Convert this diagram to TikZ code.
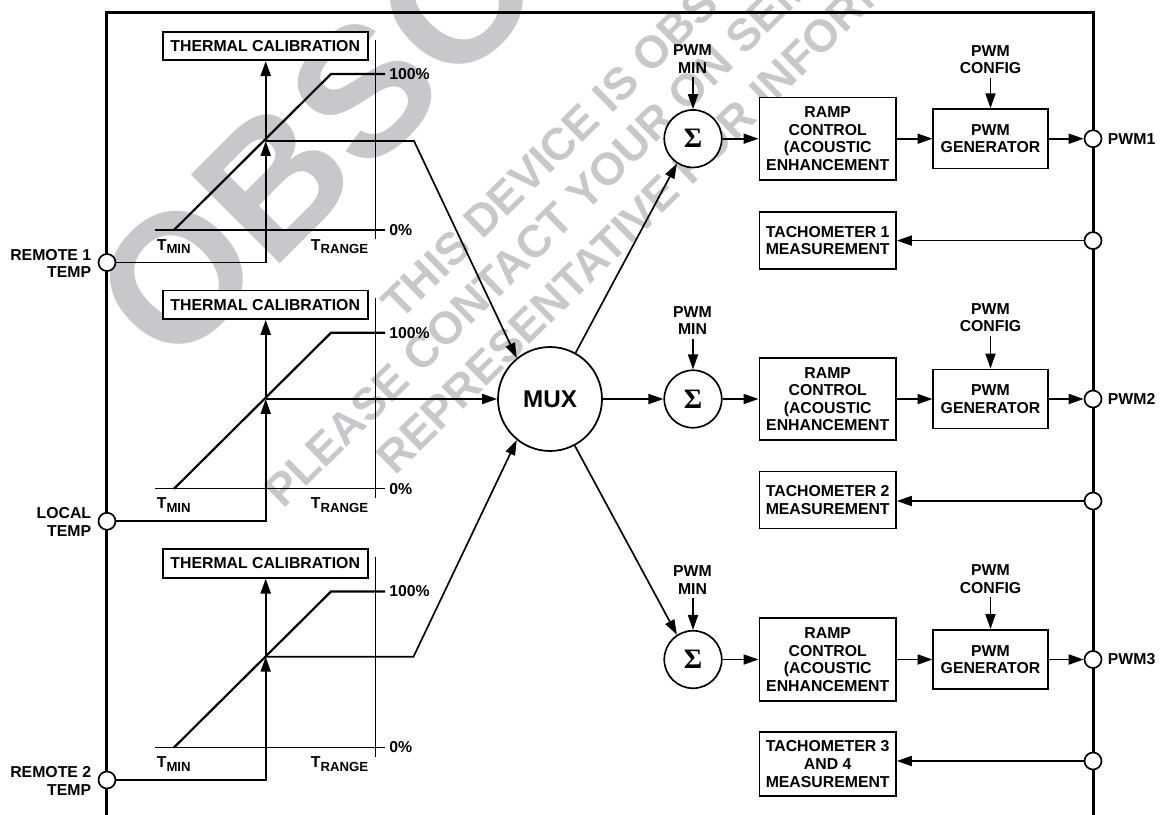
\documentclass[tikz,border=0pt]{standalone}
\usepackage{fontspec}
\setmainfont{Liberation Sans}
\newfontfamily\sigmafont{Liberation Serif}
\definecolor{wmgray}{HTML}{C8C8CB}
\usetikzlibrary{arrows.meta, positioning, calc}

\newcommand{\subtxt}[2]{#1\raisebox{-2pt}{\fontsize{7.5}{9}\selectfont #2}}

\begin{document}
\begin{tikzpicture}[
  x=0.02cm, y=-0.02cm,
  lbl/.style={font=\bfseries\fontsize{9}{10}\selectfont, align=center, inner sep=2pt},
  boxed/.style={lbl, draw=black, fill=white, line width=0.95pt, inner sep=0pt},
  wire/.style={line width=0.95pt},
  thickwire/.style={line width=1.25pt},
  hair/.style={line width=0.7pt},
  arrowwire/.style={wire, -{Triangle[length=8.5pt,width=5.7pt]}},
  arrowthick/.style={thickwire, -{Triangle[length=8.5pt,width=5.7pt]}},
  pin/.style={circle, draw=black, fill=white, line width=0.95pt, minimum size=0.34cm, inner sep=0pt},
  sumnode/.style={circle, draw=black, fill=white, line width=0.95pt, minimum size=1.15cm, inner sep=0pt,
    font=\sigmafont\bfseries\fontsize{16}{16}\selectfont},
  wmbig/.style={font=\bfseries\fontsize{104}{104}\selectfont, text=wmgray, anchor=base west, rotate=45, inner sep=0pt},
  wmsmall/.style={font=\bfseries\fontsize{25.7}{26}\selectfont, text=wmgray, anchor=base west, rotate=44.5, inner sep=0pt}
]
  \useasboundingbox (0,0) rectangle (1160,815);

  % Watermark
  \begin{scope}
    \clip (0,0) rectangle (1160,815);
    \node[wmbig] (wmOne) at (171,373) {OBSO};
    \node[wmsmall] (wmTwo) at (400,322) {THIS DEVICE IS OBS};
    \node[wmsmall] (wmThree) at (283,510) {PLEASE CONTACT YOUR ON SEM};
    \node[wmsmall] (wmFour) at (395,477) {REPRESENTATIVE FOR INFORM};
  \end{scope}

  % Frame, open at the bottom
  \draw[line width=1.7pt] (106.7,815) -- (106.7,12.5) -- (1093,12.5) -- (1093,815);

  % Thermal calibration panels
  \node[circle, draw=black, fill=white, line width=1pt, minimum size=2.08cm, inner sep=0pt,
    font=\bfseries\fontsize{13.8}{14}\selectfont] (mux) at (550,399) {MUX};
  \foreach \p/\dy/\yo/\txt in {
    A/0/141/{REMOTE 1\\TEMP},
    B/258.75/399/{LOCAL\\TEMP},
    C/517.5/656.7/{REMOTE 2\\TEMP}%
  }{
    \node[boxed, minimum width=4.1cm, minimum height=0.57cm] (cal\p) at (265.2,46+\dy) {THERMAL CALIBRATION};
    \node[pin] (temp\p) at (107,262.5+\dy) {};
    \node[lbl, align=right, anchor=east, inner sep=0pt] (name\p) at (91.5,263.5+\dy) {\txt};
    \node[lbl, anchor=west, inner sep=0pt] (top\p) at (389,74+\dy) {100\%};
    \node[lbl, anchor=west, inner sep=0pt] (bot\p) at (389,230+\dy) {0\%};
    \node[lbl, anchor=base west, inner sep=0pt] (tmin\p) at (156.5,250+\dy) {\subtxt{T}{MIN}};
    \node[lbl, anchor=base east, inner sep=0pt] (trange\p) at (368.5,250+\dy) {\subtxt{T}{RANGE}};
    \coordinate (cross\p) at (265.7,\yo);
    % axes and ramp
    \draw[hair] (155,230+\dy) -- (385,230+\dy);
    \draw[hair] (375.5,39.5+\dy) -- (375.5,239+\dy);
    \draw[thickwire] (174,230+\dy) -- (331,74+\dy) -- (385,74+\dy);
    % input and output of the panel
    \draw[arrowwire] (temp\p) -| (cross\p);
    \draw[arrowthick] (cross\p) -- (cal\p.south -| cross\p);
  }
  \coordinate (kinkA) at (414,141);
  \coordinate (kinkC) at (413.5,656.7);
  \draw[arrowwire] (crossA) -- (kinkA) -- (mux.129);
  \draw[arrowwire] (crossB) -- (mux.west);
  \draw[arrowwire] (crossC) -- (kinkC) -- (mux.231);

  % PWM channels
  \foreach \c/\ys/\ymin/\ycfg in {
    A/138.7/59/59.5,
    B/399/320.5/317.5,
    C/659.5/580/579%
  }{
    \node[sumnode] (sum\c) at (693,\ys) {Σ};
    \node[lbl] (min\c) at (692.5,\ymin) {PWM\\MIN};
    \node[boxed, minimum width=2.734cm, minimum height=1.65cm] (ramp\c) at (827.7,\ys) {RAMP\\CONTROL\\(ACOUSTIC\\ENHANCEMENT};
    \node[boxed, minimum width=2.288cm, minimum height=1.186cm] (gen\c) at (990.5,\ys) {PWM\\GENERATOR};
    \node[lbl] (cfg\c) at (990.5,\ycfg) {PWM\\CONFIG};
    \node[pin] (out\c) at (1093,\ys) {};
    \draw[arrowwire] (min\c.south -| sum\c) -- (sum\c);
    \draw[arrowwire] (cfg\c.south -| gen\c) -- (gen\c);
    \draw[arrowwire] (sum\c) -- (ramp\c);
    \draw[arrowwire] (ramp\c) -- (gen\c);
    \draw[arrowwire] (gen\c) -- (out\c);
  }
  \node[lbl, anchor=west, inner sep=0pt] (nameOutA) at (1107.5,138.7) {PWM1};
  \node[lbl, anchor=west, inner sep=0pt] (nameOutB) at (1107.5,399) {PWM2};
  \node[lbl, anchor=west, inner sep=0pt] (nameOutC) at (1107.5,659.5) {PWM3};

  % MUX to the summing nodes
  \draw[arrowwire] (mux.61) -- (sumA.237);
  \draw[arrowwire] (mux.east) -- (sumB.west);
  \draw[arrowwire] (mux.-62) -- (sumC.123);

  % Tachometers
  \node[boxed, minimum width=2.734cm, minimum height=1.134cm] (tachA) at (827.7,240.5) {TACHOMETER 1\\MEASUREMENT};
  \node[boxed, minimum width=2.734cm, minimum height=1.134cm] (tachB) at (827.7,500) {TACHOMETER 2\\MEASUREMENT};
  \node[boxed, minimum width=2.734cm, minimum height=1.268cm] (tachC) at (827.7,764) {TACHOMETER 3\\AND 4\\MEASUREMENT};
  \foreach \c/\yt in {A/240.6,B/501,C/761}{
    \node[pin] (in\c) at (1093,\yt) {};
    \draw[arrowwire] (in\c) -- (tach\c.east |- in\c);
  }
\end{tikzpicture}
\end{document}
